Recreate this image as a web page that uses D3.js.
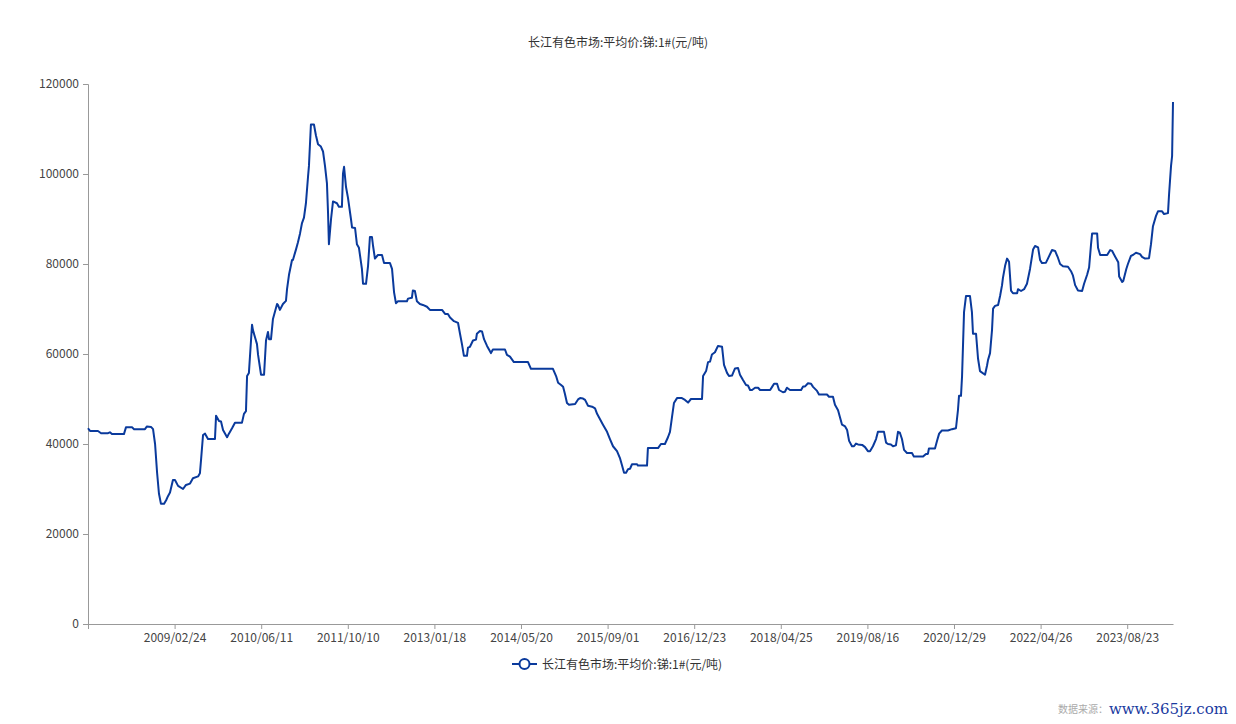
<!DOCTYPE html>
<html>
<head>
<meta charset="utf-8">
<script src="https://cdn.jsdelivr.net/npm/d3@7"></script>
<style>
  html, body { margin: 0; padding: 0; background: #fff; }
  svg { display: block; font-family: "Microsoft YaHei", "Noto Sans CJK SC", sans-serif; }
</style>
</head>
<body>
<svg id="chart" width="1236" height="724"></svg>
<script>
const titleText = "长江有色市场:平均价:锑:1#(元/吨)";
const seriesName = "长江有色市场:平均价:锑:1#(元/吨)";
const tickLabels = ["2009/02/24","2010/06/11","2011/10/10","2013/01/18","2014/05/20","2015/09/01",
                    "2016/12/23","2018/04/25","2019/08/16","2020/12/29","2022/04/26","2023/08/23"];
const firstDate = "2007/11/12";
const lastDate = "2024/05/05";
const yTicks = [0, 20000, 40000, 60000, 80000, 100000, 120000];

const dates = [
"2007/11/12","2007/11/23","2008/01/05","2008/01/22","2008/02/29","2008/03/10","2008/03/21","2008/05/25",
"2008/06/05","2008/07/08","2008/07/19","2008/09/16","2008/09/27","2008/10/19","2008/10/30","2008/11/10",
"2008/11/21","2008/12/01","2008/12/12","2008/12/29","2009/01/09","2009/01/19","2009/01/30","2009/02/15",
"2009/02/26","2009/03/15","2009/04/11","2009/04/27","2009/05/19","2009/06/04","2009/07/02","2009/07/12",
"2009/07/18","2009/07/29","2009/08/09","2009/08/25","2009/10/02","2009/10/08","2009/10/24","2009/11/04",
"2009/11/15","2009/12/07","2009/12/17","2010/01/03","2010/01/19","2010/02/26","2010/03/09","2010/03/20",
"2010/03/26","2010/04/05","2010/04/22","2010/04/27","2010/05/19","2010/05/25","2010/06/10","2010/06/27",
"2010/07/08","2010/07/19","2010/07/25","2010/08/05","2010/08/16","2010/09/08","2010/09/13","2010/09/24",
"2010/10/11","2010/10/28","2010/11/03","2010/11/14","2010/12/01","2010/12/06","2010/12/23","2011/01/03",
"2011/01/15","2011/01/26","2011/02/06","2011/02/17","2011/03/01","2011/03/06","2011/03/17","2011/04/03",
"2011/04/14","2011/04/26","2011/05/12","2011/05/24","2011/06/04","2011/06/15","2011/06/21","2011/06/26",
"2011/07/08","2011/07/19","2011/08/10","2011/08/21","2011/09/07","2011/09/13","2011/09/19","2011/09/30",
"2011/10/11","2011/10/27","2011/11/02","2011/11/18","2011/11/28","2011/12/09","2011/12/25","2011/12/31",
"2012/01/16","2012/01/27","2012/02/06","2012/02/17","2012/02/23","2012/03/04","2012/03/20","2012/04/11",
"2012/04/22","2012/05/24","2012/06/04","2012/06/15","2012/06/25","2012/07/06","2012/08/23","2012/08/29",
"2012/09/19","2012/09/24","2012/10/05","2012/10/16","2012/11/01","2012/11/17","2012/12/09","2012/12/25",
"2013/03/02","2013/03/19","2013/04/04","2013/04/16","2013/05/08","2013/05/31","2013/06/11","2013/06/22",
"2013/07/03","2013/07/20","2013/07/26","2013/08/06","2013/08/23","2013/09/09","2013/09/14","2013/10/01",
"2013/10/13","2013/10/24","2013/11/10","2013/11/21","2013/12/02","2013/12/13","2014/02/19","2014/03/02",
"2014/03/19","2014/04/10","2014/06/27","2014/07/13","2014/11/09","2014/11/26","2014/12/07","2014/12/23",
"2015/01/03","2015/01/13","2015/01/24","2015/02/04","2015/03/09","2015/03/25","2015/04/05","2015/04/21",
"2015/05/02","2015/05/18","2015/06/09","2015/06/25","2015/07/06","2015/07/22","2015/08/07","2015/08/29",
"2015/09/14","2015/10/01","2015/10/23","2015/11/09","2015/11/20","2015/12/01","2015/12/12","2015/12/23",
"2016/01/03","2016/01/14","2016/02/11","2016/02/16","2016/04/06","2016/04/11","2016/06/06","2016/06/22",
"2016/07/14","2016/07/31","2016/08/11","2016/08/22","2016/09/02","2016/09/19","2016/10/16","2016/11/02",
"2016/11/19","2016/12/05","2017/02/05","2017/02/11","2017/02/28","2017/03/11","2017/03/22","2017/04/02",
"2017/04/19","2017/05/06","2017/05/29","2017/06/09","2017/06/26","2017/07/07","2017/07/24","2017/08/10",
"2017/08/27","2017/09/07","2017/09/24","2017/10/11","2017/10/22","2017/11/03","2017/11/14","2017/12/01",
"2017/12/18","2017/12/29","2018/02/24","2018/03/07","2018/03/18","2018/04/04","2018/04/15","2018/05/07",
"2018/05/18","2018/05/29","2018/06/15","2018/08/15","2018/08/26","2018/09/06","2018/09/22","2018/10/09",
"2018/10/20","2018/11/11","2018/11/22","2019/01/05","2019/01/16","2019/02/07","2019/02/18","2019/03/07",
"2019/03/18","2019/03/29","2019/04/15","2019/04/26","2019/05/07","2019/05/23","2019/06/03","2019/06/14",
"2019/06/25","2019/07/18","2019/08/03","2019/08/19","2019/08/31","2019/09/17","2019/10/05","2019/10/16",
"2019/11/20","2019/12/02","2019/12/13","2019/12/30","2020/01/11","2020/01/28","2020/02/09","2020/02/20",
"2020/03/03","2020/03/15","2020/04/01","2020/04/30","2020/05/11","2020/07/03","2020/07/20","2020/07/31",
"2020/08/06","2020/09/10","2020/09/22","2020/10/04","2020/10/20","2020/11/24","2020/12/17","2021/01/09",
"2021/01/20","2021/01/26","2021/02/06","2021/02/12","2021/02/23","2021/03/06","2021/03/28","2021/04/08",
"2021/04/14","2021/05/01","2021/05/12","2021/05/23","2021/06/20","2021/07/01","2021/07/07","2021/07/18",
"2021/07/29","2021/08/04","2021/08/15","2021/09/01","2021/09/12","2021/09/23","2021/09/28","2021/10/10",
"2021/10/21","2021/11/01","2021/11/12","2021/11/23","2021/12/16","2021/12/21","2022/01/07","2022/01/24",
"2022/02/09","2022/02/26","2022/03/15","2022/03/26","2022/04/12","2022/04/23","2022/05/04","2022/05/26",
"2022/06/06","2022/06/29","2022/07/16","2022/08/01","2022/08/13","2022/08/29","2022/09/26","2022/10/13",
"2022/10/24","2022/11/05","2022/11/21","2022/12/14","2022/12/25","2023/01/11","2023/01/22","2023/02/02",
"2023/02/08","2023/03/08","2023/03/13","2023/03/25","2023/05/03","2023/05/20","2023/05/31","2023/06/17",
"2023/07/04","2023/07/09","2023/07/26","2023/08/01","2023/08/18","2023/08/27","2023/09/13","2023/09/24",
"2023/10/11","2023/11/03","2023/11/14","2023/12/01","2023/12/23","2024/01/03","2024/01/14","2024/01/31",
"2024/02/11","2024/03/05","2024/03/16","2024/04/07","2024/04/13","2024/04/24","2024/04/30","2024/05/05"
];

const prices = [
43500,42900,42900,42400,42400,42600,42200,42200,
43700,43700,43300,43300,43900,43800,43300,40000,
33600,29000,26700,26700,27500,28400,29200,32000,
32000,30700,30000,30900,31200,32400,32800,33500,
36400,42000,42300,41100,41100,46300,45100,45000,
43100,41500,42300,43500,44700,44700,46700,47300,
55100,55800,66500,65300,62200,59800,55400,55400,
63000,64900,63300,63300,67800,71100,70900,69800,
71100,71800,74400,77600,80900,80900,83200,84800,
86800,89100,90300,93500,99500,101800,111000,111000,
108600,106600,106100,105000,101800,97900,91500,84400,
90000,93900,93500,92700,92700,100100,101600,97100,
94700,90000,88100,88000,84400,83600,78900,75600,
75600,79600,86000,86000,84000,81200,82000,82000,
80200,80200,78900,73700,71300,71700,71700,72300,
72500,74100,74000,71700,71100,70900,70500,69800,
69800,68900,68900,68100,67300,66900,64500,62200,
59600,59600,61400,61600,63000,63200,64500,65100,
65000,63300,61800,61000,60200,61000,61000,59800,
59400,58200,58200,56700,56700,55100,53600,53100,
52700,51100,49100,48700,48900,49900,50200,50100,
49800,48500,48300,47900,46700,45500,44300,42700,
41100,39500,38400,36800,35200,33600,33600,34400,
34500,35500,35500,35200,35200,39100,39100,40000,
40000,41500,42700,45900,49100,50200,50200,49800,
49200,50000,50000,55100,56200,58200,58300,59900,
60400,61800,61600,57600,55800,55100,55200,56800,
56900,55400,54200,53100,53000,52000,52000,52500,
52500,52000,52000,52700,53400,53400,52000,51500,
51600,52500,52000,52000,52800,52800,53500,53400,
52700,51800,51000,51000,50500,50500,48700,47500,
45900,44300,43900,43100,40700,39500,39500,40100,
39900,39800,39300,38400,38400,39500,41100,42700,
42700,40300,40000,39900,39500,39700,42700,42500,
41100,38700,38000,38000,37200,37200,37800,37800,
39000,39000,40700,42300,43000,43000,43300,43500,
47500,50700,50700,55100,69300,72900,72900,69300,
64500,64500,59000,56200,55400,57400,58700,60200,
65300,70100,70700,70900,72900,75300,76900,79600,
81200,80500,74100,73500,73500,74400,74000,74400,
75600,78900,83200,84000,83700,80900,80200,80300,
81200,83100,82900,81400,80000,79500,79400,78400,
77400,75300,74100,74000,75600,77600,79200,84400,
86800,86800,83600,82000,82000,83100,82900,81600,
80400,77200,76000,76200,78900,80000,81800,82000,
82500,82200,81600,81200,81300,84400,88400,90700,
91700,91700,91100,91300,95500,101800,104000,116000
];

const parse = d3.timeParse("%Y/%m/%d");
const data = dates.map((d, i) => ({ date: parse(d), value: prices[i] }));

const svg = d3.select("#chart");
const W = 1236, H = 724;
const plot = { left: 88, right: 1173, top: 84, bottom: 624 };

// Category-style axis: labelled dates are evenly spaced
const tickDates = tickLabels.map(parse);
const t0 = parse(firstDate), tEnd = parse(lastDate);
const nInt = tickDates.length;
const frac = (tEnd - tickDates[nInt - 1]) / (tickDates[nInt - 1] - tickDates[nInt - 2]);
const step = (plot.right - plot.left) / (nInt + frac);
const domain = [t0, ...tickDates, tEnd];
const range = domain.map((d, i) => i <= nInt ? plot.left + i * step : plot.right);
const x = d3.scaleTime().domain(domain).range(range);

const y = d3.scaleLinear().domain([0, 120000]).range([plot.bottom, plot.top]);

// Title
svg.append("text")
  .attr("x", W / 2).attr("y", 47)
  .attr("text-anchor", "middle")
  .attr("font-size", 12).attr("fill", "#333")
  .text(titleText);

// Y axis
const yAxis = d3.axisLeft(y).tickValues(yTicks).tickSize(5).tickPadding(4).tickFormat(d3.format("d"));
const gy = svg.append("g").attr("transform", `translate(${plot.left},0)`).call(yAxis);
gy.select(".domain").attr("stroke", "#999");
gy.selectAll(".tick line").attr("stroke", "#999");
gy.selectAll(".tick text").attr("fill", "#444").attr("font-size", 12)
  .attr("font-family", "\"Microsoft YaHei\", \"Noto Sans CJK SC\", sans-serif");

// X axis
const allTickDates = [t0, ...tickDates];
const fmt = d3.timeFormat("%Y/%m/%d");
const xAxis = d3.axisBottom(x).tickValues(allTickDates).tickSize(5).tickPadding(4)
  .tickSizeOuter(0)
  .tickFormat(d => (+d === +t0) ? "" : fmt(d));
const gx = svg.append("g").attr("transform", `translate(0,${plot.bottom})`).call(xAxis);
gx.select(".domain").attr("stroke", "#999");
gx.selectAll(".tick line").attr("stroke", "#999");
gx.selectAll(".tick text").attr("fill", "#444").attr("font-size", 12)
  .attr("font-family", "\"Microsoft YaHei\", \"Noto Sans CJK SC\", sans-serif");

// Line
const line = d3.line().x(d => x(d.date)).y(d => y(d.value)).curve(d3.curveLinear);
svg.append("path")
  .datum(data)
  .attr("fill", "none")
  .attr("stroke", "#0a3a9c")
  .attr("stroke-width", 2)
  .attr("stroke-linejoin", "round")
  .attr("d", line);

// Legend
const lg = svg.append("g").attr("transform", "translate(512,664)");
lg.append("line").attr("x1", 0).attr("x2", 25).attr("y1", 0).attr("y2", 0)
  .attr("stroke", "#0a3a9c").attr("stroke-width", 2);
lg.append("circle").attr("cx", 12.5).attr("cy", 0).attr("r", 5)
  .attr("fill", "#fff").attr("stroke", "#0a3a9c").attr("stroke-width", 2);
lg.append("text").attr("x", 30).attr("y", 4.5)
  .attr("font-size", 12).attr("fill", "#333").text(seriesName);

// Watermark
svg.append("text").attr("x", 1108).attr("y", 713).attr("text-anchor", "end")
  .attr("font-size", 10).attr("fill", "#aaa").text("数据来源：");
svg.append("text").attr("x", 1228).attr("y", 714).attr("text-anchor", "end")
  .attr("font-family", "\"DejaVu Serif\", \"Liberation Serif\", serif")
  .attr("font-size", 15).attr("fill", "#1a3aa0").text("www.365jz.com");
</script>
</body>
</html>
